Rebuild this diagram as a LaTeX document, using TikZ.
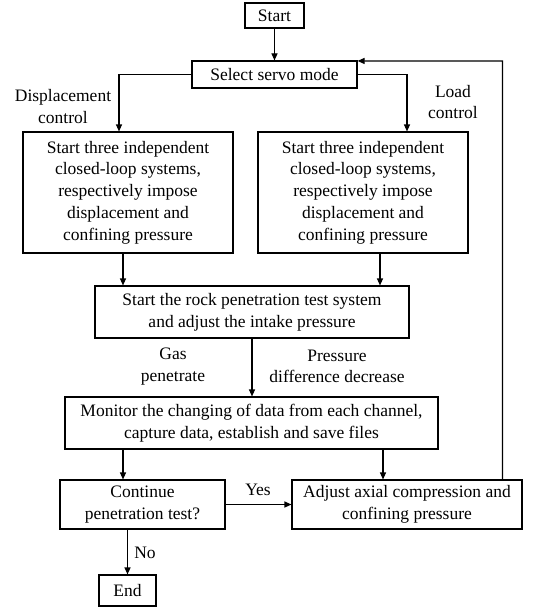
\documentclass[tikz,border=0pt]{standalone}
\usepackage{fontspec}
\setmainfont{Liberation Serif}
\usetikzlibrary{arrows.meta,calc}
\begin{document}
\begin{tikzpicture}[x=1pt,y=-1pt,
  box/.style={draw,line width=1.1pt,align=center,inner sep=0pt,font=\fontsize{17.5}{21.7}\selectfont},
  lbl/.style={align=center,inner sep=0pt,font=\fontsize{17.5}{21.7}\selectfont},
  arr/.style={line width=1.1pt,-{Triangle[length=7pt,width=6pt]}},
  ln/.style={line width=1.1pt}]
\fill[white] (0,0) rectangle (535,610);
\useasboundingbox (0,0) rectangle (535,610);
\node[box,minimum width=59pt,minimum height=25pt] (start) at (274.5,15.5) {Start};
\node[box,minimum width=165pt,minimum height=27pt] (select) at (274.5,74.5) {Select servo mode};
\node[box,minimum width=210pt,minimum height=121pt] (left) at (128,192.5) {Start three independent\\closed-loop systems,\\respectively impose\\displacement and\\confining pressure};
\node[box,minimum width=210pt,minimum height=121pt] (right) at (363,192.5) {Start three independent\\closed-loop systems,\\respectively impose\\displacement and\\confining pressure};
\node[box,minimum width=314pt,minimum height=52pt] (rock) at (252,312) {Start the rock penetration test system\\and adjust the intake pressure};
\node[box,minimum width=373pt,minimum height=52pt] (monitor) at (251.5,423) {Monitor the changing of data from each channel,\\capture data, establish and save files};
\node[box,minimum width=165pt,minimum height=49pt] (cont) at (142.5,504.5) {Continue\\penetration test?};
\node[box,minimum width=230pt,minimum height=49pt] (adjust) at (407,504.5) {Adjust axial compression and\\confining pressure};
\node[box,minimum width=57pt,minimum height=31pt] (end) at (127.5,590.5) {End};

\node[lbl] (ldisp) at (63,106.5) {Displacement\\control};
\node[lbl] (lload) at (453,102) {Load\\control};
\node[lbl] (lgas) at (173,366.5) {Gas\\penetrate};
\node[lbl] (lpress) at (337,366.5) {Pressure\\difference decrease};
\node[lbl] (lyes) at (258,490) {Yes};
\node[lbl] (lno) at (145,553) {No};

\draw[arr] (start) -- (select);
\draw[arr] (select.west) -| ([xshift=-9pt]left.north);
\draw[arr] (select.east) -| ([xshift=44pt]right.north);
\draw[arr] ([xshift=-5pt]left.south) -- ([xshift=-5pt]left.south |- rock.north);
\draw[arr] ([xshift=17pt]right.south) -- ([xshift=17pt]right.south |- rock.north);
\draw[arr] (rock) -- (rock.south |- monitor.north);
\draw[arr] ([xshift=-19.5pt]cont.north |- monitor.south) -- ([xshift=-19.5pt]cont.north);
\draw[arr] ([xshift=-24pt]adjust.north |- monitor.south) -- ([xshift=-24pt]adjust.north);
\draw[arr] (cont) -- (adjust);
\draw[arr] (cont.south -| end.north) -- (end.north);
\coordinate (fb) at (502.5,61);
\draw[arr] (adjust.north -| fb) -- (fb) -- ([yshift=-0.5pt]select.north east);
\end{tikzpicture}
\end{document}
